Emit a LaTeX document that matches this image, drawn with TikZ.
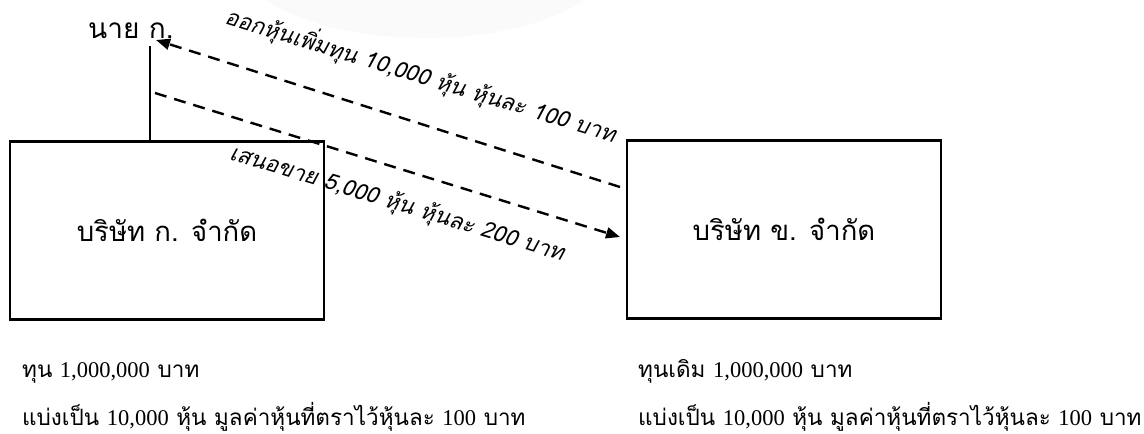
\documentclass[tikz,border=0pt]{standalone}
\usepackage{fontspec}
\setmainfont{Loma}[Script=Thai]
\newfontfamily\thai[Script=Thai]{Loma}
\newfontfamily\thaiit[Script=Thai,FakeSlant=0.2]{Loma}
\newfontfamily\numf{Liberation Serif}
\usetikzlibrary{arrows.meta}
\begin{document}
\begin{tikzpicture}[x=1pt,y=-1pt,
  box/.style={draw,line width=2.5pt,minimum width=314pt,minimum height=178pt,inner sep=0pt,font=\thai\fontsize{27.5}{31}\selectfont},
  flow/.style={line width=2.4pt,dash pattern=on 12pt off 8pt,-{Triangle[length=14pt,width=11pt]}},
  lbl/.style={font=\thaiit\fontsize{22.3}{26}\selectfont,rotate=-17,inner sep=0pt},
  info/.style={anchor=base west,inner sep=0pt,font=\thai\fontsize{22.5}{26}\selectfont},
  who/.style={anchor=base west,inner sep=0pt,font=\thai\fontsize{28}{32}\selectfont}]
\useasboundingbox (0,0) rectangle (1144,434);
\fill[gray!4] (425,-40) ellipse [x radius=185, y radius=78];
\node[box] (A) at (167,230.5) {บริษัท ก. จำกัด};
\node[box] (B) at (784,229.5) {บริษัท ข. จำกัด};
\node[who] (nay) at (88,38) {นาย ก.};
\coordinate (stem) at (150,46);
\draw[line width=1.2pt] (A.north -| stem) -- (stem);
\coordinate (u1) at (620,187);
\coordinate (u2) at (156,40);
\draw[flow] (u1) -- (u2);
\coordinate (l1) at (155,93);
\coordinate (l2) at (620,237);
\draw[flow] (l1) -- (l2);
\node[lbl] (t1) at (421,75) {ออกหุ้นเพิ่มทุน 10,000 หุ้น หุ้นละ 100 บาท};
\node[lbl] (t2) at (397,204) {เสนอขาย 5,000 หุ้น หุ้นละ 200 บาท};
\node[info] (a1) at (22,377) {ทุน {\numf 1,000,000} บาท};
\node[info] (a2) at (22,425) {แบ่งเป็น {\numf 10,000} หุ้น มูลค่าหุ้นที่ตราไว้หุ้นละ {\numf 100} บาท};
\node[info] (b1) at (638,377) {ทุนเดิม {\numf 1,000,000} บาท};
\node[info] (b2) at (638,425) {แบ่งเป็น {\numf 10,000} หุ้น มูลค่าหุ้นที่ตราไว้หุ้นละ {\numf 100} บาท};
\end{tikzpicture}
\end{document}
